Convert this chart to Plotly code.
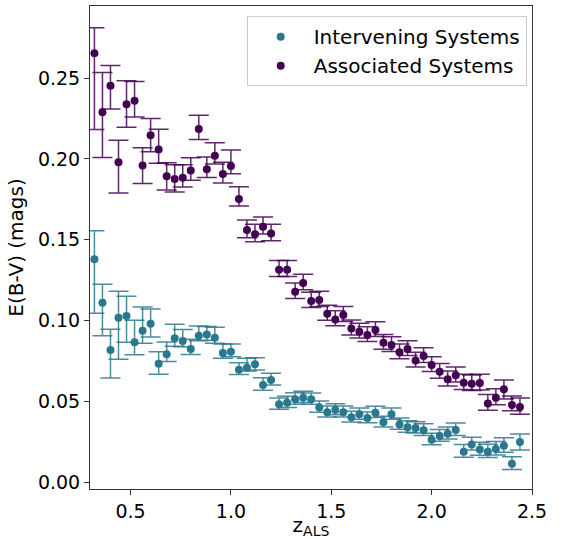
import plotly.graph_objects as go

z_bins = [0.32, 0.36, 0.40, 0.44, 0.48, 0.52, 0.56, 0.60, 0.64, 0.68,
          0.72, 0.76, 0.80, 0.84, 0.88, 0.92, 0.96, 1.00, 1.04, 1.08,
          1.12, 1.16, 1.20, 1.24, 1.28, 1.32, 1.36, 1.40, 1.44, 1.48,
          1.52, 1.56, 1.60, 1.64, 1.68, 1.72, 1.76, 1.80, 1.84, 1.88,
          1.92, 1.96, 2.00, 2.04, 2.08, 2.12, 2.16, 2.20, 2.24, 2.28,
          2.32, 2.36, 2.40, 2.44]

inter_ebv = [0.1379, 0.1110, 0.0817, 0.1017, 0.1028, 0.0865, 0.0937, 0.0980, 0.0733, 0.0791,
             0.0890, 0.0873, 0.0824, 0.0906, 0.0914, 0.0894, 0.0799, 0.0807, 0.0695, 0.0708,
             0.0729, 0.0601, 0.0632, 0.0481, 0.0491, 0.0512, 0.0522, 0.0512, 0.0462, 0.0432,
             0.0446, 0.0432, 0.0401, 0.0419, 0.0396, 0.0429, 0.0370, 0.0419, 0.0357, 0.0339,
             0.0334, 0.0320, 0.0262, 0.0285, 0.0299, 0.0322, 0.0188, 0.0233, 0.0202, 0.0188,
             0.0204, 0.0225, 0.0113, 0.0248]
inter_err_up = [0.0177, 0.0114, 0.0129, 0.0164, 0.0122, 0.0136, 0.0147, 0.0091, 0.0074, 0.0076,
                0.0087, 0.0072, 0.0060, 0.0060, 0.0049, 0.0064, 0.0056, 0.0048, 0.0043, 0.0058,
                0.0041, 0.0045, 0.0042, 0.0040, 0.0040, 0.0041, 0.0040, 0.0039, 0.0040, 0.0039,
                0.0038, 0.0039, 0.0038, 0.0039, 0.0038, 0.0040, 0.0038, 0.0039, 0.0040, 0.0040,
                0.0040, 0.0041, 0.0040, 0.0041, 0.0042, 0.0043, 0.0044, 0.0045, 0.0045, 0.0046,
                0.0047, 0.0050, 0.0044, 0.0049]
inter_err_dn = [0.0334, 0.0204, 0.0173, 0.0257, 0.0163, 0.0077, 0.0078, 0.0082, 0.0066, 0.0044,
                0.0050, 0.0035, 0.0034, 0.0031, 0.0036, 0.0034, 0.0033, 0.0031, 0.0029, 0.0021,
                0.0035, 0.0032, 0.0031, 0.0030, 0.0030, 0.0031, 0.0030, 0.0030, 0.0030, 0.0029,
                0.0029, 0.0030, 0.0029, 0.0030, 0.0029, 0.0030, 0.0029, 0.0030, 0.0030, 0.0031,
                0.0031, 0.0032, 0.0031, 0.0032, 0.0033, 0.0034, 0.0034, 0.0035, 0.0036, 0.0036,
                0.0037, 0.0040, 0.0035, 0.0049]

assoc_ebv = [0.2654, 0.2289, 0.2454, 0.1980, 0.2339, 0.2361, 0.1959, 0.2147, 0.2058, 0.1893,
             0.1876, 0.1884, 0.1928, 0.2186, 0.1936, 0.2020, 0.1907, 0.1957, 0.1752, 0.1560,
             0.1534, 0.1581, 0.1538, 0.1315, 0.1315, 0.1178, 0.1232, 0.1121, 0.1127, 0.1042,
             0.1007, 0.1034, 0.0951, 0.0931, 0.0910, 0.0941, 0.0862, 0.0848, 0.0803, 0.0824,
             0.0753, 0.0780, 0.0724, 0.0683, 0.0636, 0.0661, 0.0615, 0.0609, 0.0613, 0.0487,
             0.0522, 0.0574, 0.0477, 0.0464]
assoc_err_up = [0.0159, 0.0246, 0.0124, 0.0136, 0.0146, 0.0118, 0.0111, 0.0103, 0.0126, 0.0084,
                0.0089, 0.0080, 0.0079, 0.0085, 0.0076, 0.0080, 0.0072, 0.0099, 0.0076, 0.0062,
                0.0062, 0.0060, 0.0058, 0.0056, 0.0056, 0.0055, 0.0055, 0.0054, 0.0054, 0.0053,
                0.0053, 0.0053, 0.0052, 0.0052, 0.0052, 0.0052, 0.0052, 0.0051, 0.0051, 0.0051,
                0.0051, 0.0051, 0.0051, 0.0051, 0.0052, 0.0052, 0.0053, 0.0053, 0.0054, 0.0055,
                0.0056, 0.0058, 0.0056, 0.0056]
assoc_err_dn = [0.0472, 0.0280, 0.0145, 0.0190, 0.0142, 0.0101, 0.0111, 0.0103, 0.0084, 0.0085,
                0.0080, 0.0058, 0.0059, 0.0066, 0.0050, 0.0051, 0.0056, 0.0048, 0.0043, 0.0048,
                0.0046, 0.0045, 0.0044, 0.0043, 0.0043, 0.0042, 0.0042, 0.0041, 0.0041, 0.0041,
                0.0040, 0.0040, 0.0040, 0.0040, 0.0040, 0.0040, 0.0040, 0.0040, 0.0040, 0.0040,
                0.0040, 0.0040, 0.0040, 0.0041, 0.0041, 0.0041, 0.0042, 0.0042, 0.0043, 0.0043,
                0.0044, 0.0060, 0.0035, 0.0045]

y_ticks = [0.00, 0.05, 0.10, 0.15, 0.20, 0.25]
x_ticks = [0.5, 1.0, 1.5, 2.0, 2.5]

TEAL = "#2a788e"
PURPLE = "#440154"
FONT = "DejaVu Sans"

fig = go.Figure()
fig.add_trace(go.Scatter(
    x=z_bins, y=inter_ebv, mode="markers", name="Intervening Systems",
    marker=dict(color=TEAL, size=8),
    error_y=dict(type="data", symmetric=False, array=inter_err_up, arrayminus=inter_err_dn,
                 color="rgba(42,120,142,0.85)", thickness=1.5, width=10),
))
fig.add_trace(go.Scatter(
    x=z_bins, y=assoc_ebv, mode="markers", name="Associated Systems",
    marker=dict(color=PURPLE, size=8),
    error_y=dict(type="data", symmetric=False, array=assoc_err_up, arrayminus=assoc_err_dn,
                 color="rgba(68,1,84,0.85)", thickness=1.5, width=10),
))

axis_common = dict(
    showline=True, linecolor="#333333", linewidth=1, mirror=True,
    ticks="outside", ticklen=5, tickcolor="#333333", tickwidth=1,
    showgrid=False, zeroline=False, automargin=False,
    tickfont=dict(family=FONT, size=19, color="black"),
)

fig.update_layout(
    width=561, height=539,
    margin=dict(l=90, r=29, t=6, b=50),
    paper_bgcolor="white", plot_bgcolor="white",
    font=dict(family=FONT, size=20, color="black"),
    xaxis=dict(range=[0.298, 2.5], tickvals=x_ticks, ticktext=[f"{v:.1f}" for v in x_ticks],
               title=dict(text="z<sub>ALS</sub>", font=dict(family=FONT, size=20), standoff=2),
               **axis_common),
    yaxis=dict(range=[-0.0043, 0.2947], tickvals=y_ticks, ticktext=[f"{v:.2f}" for v in y_ticks],
               title=dict(text="E(B-V) (mags)", font=dict(family=FONT, size=20), standoff=8),
               **axis_common),
    showlegend=True,
    legend=dict(x=0.988, y=0.979, xanchor="right", yanchor="top",
                bgcolor="rgba(255,255,255,0.8)", bordercolor="#cccccc", borderwidth=1,
                font=dict(family=FONT, size=20, color="black"),
                itemwidth=56),
)

fig.write_html("out.html", config={"displayModeBar": False},
               post_script="document.body.style.margin='0';document.body.style.overflow='hidden';")
